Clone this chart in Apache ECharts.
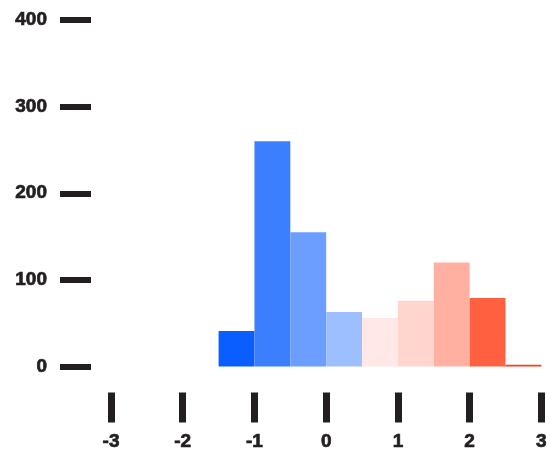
<!DOCTYPE html>
<html>
<head>
<meta charset="utf-8">
<script src="https://cdn.jsdelivr.net/npm/echarts@6/dist/echarts.min.js"></script>
<style>html,body{margin:0;padding:0;background:#fff;}#c{width:550px;height:456px;}</style>
</head>
<body>
<div id="c"></div>
<script>
// Histogram bins (left edge, right edge) and counts
var binStarts = [-1.5, -1.0, -0.5, 0.0, 0.5, 1.0, 1.5, 2.0, 2.5];
var binEnds   = [-1.0, -0.5, 0.0, 0.5, 1.0, 1.5, 2.0, 2.5, 3.0];
var counts    = [41, 260, 155, 63, 56, 76, 120, 79, 2];
var binColors = ['#0a5eff', '#3b7fff', '#6b9eff', '#9ebfff', '#ffe8e5', '#ffd5ce', '#ffb0a0', '#ff6040', '#ff3a1a'];
var xTicks = [-3, -2, -1, 0, 1, 2, 3];
var yTicks = [0, 100, 200, 300, 400];

var data = binStarts.map(function (s, i) { return [s, binEnds[i], counts[i]]; });

var chart = echarts.init(document.getElementById('c'), null, {renderer: 'canvas'});
var font = {fontFamily: 'Liberation Sans', fontWeight: 'bold', fontSize: 19, color: '#231f20',
            textBorderColor: '#231f20', textBorderWidth: 0.7};
chart.setOption({
  animation: false,
  grid: {left: 111, right: 6, top: 20, bottom: 89.5, containLabel: false},
  xAxis: {
    type: 'value', min: xTicks[0], max: xTicks[xTicks.length - 1], interval: 1,
    offset: 26,
    axisLine: {show: false, onZero: false},
    splitLine: {show: false},
    axisTick: {show: true, length: 30, lineStyle: {width: 7, color: '#231f20'}},
    axisLabel: Object.assign({margin: 40, verticalAlign: 'top'}, font)
  },
  yAxis: {
    type: 'value', min: yTicks[0], max: yTicks[yTicks.length - 1], interval: 100,
    offset: 20,
    axisLine: {show: false, onZero: false},
    splitLine: {show: false},
    axisTick: {show: true, length: 31, lineStyle: {width: 6, color: '#231f20'}},
    axisLabel: Object.assign({margin: 44}, font)
  },
  series: [{
    type: 'custom',
    data: data,
    encode: {x: [0, 1], y: 2},
    renderItem: function (params, api) {
      var p0 = api.coord([api.value(0), 0]);
      var p1 = api.coord([api.value(1), api.value(2)]);
      return {
        type: 'rect',
        shape: {x: p0[0], y: p1[1], width: p1[0] - p0[0], height: p0[1] - p1[1]},
        style: {fill: binColors[params.dataIndex]}
      };
    }
  }]
});
</script>
</body>
</html>
